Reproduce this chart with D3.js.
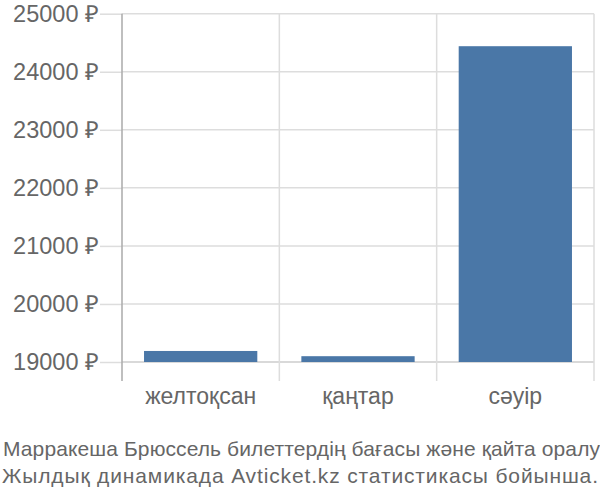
<!DOCTYPE html>
<html>
<head>
<meta charset="utf-8">
<script src="https://cdn.jsdelivr.net/npm/d3@7"></script>
<style>
  body { margin: 0; background: #fff; }
  svg text { font-family: "Liberation Sans", Arial, sans-serif; fill: #666; }
</style>
</head>
<body>
<div id="chart-area"></div>
<script>
const months = ['желтоқсан', 'қаңтар', 'сәуір'];
const prices = [19190, 19100, 24440];
const yTicks = [19000, 20000, 21000, 22000, 23000, 24000, 25000];
const caption = [
  'Марракеша Брюссель билеттердің бағасы және қайта оралу',
  'Жылдық динамикада Avticket.kz статистикасы бойынша.'
];

const drawChart = () => {
  const chartSize = { width: 600, height: 500 };
  const left = 122, right = 594, top = 13.7, base = 362, bottom = 381;

  const svg = d3.select('#chart-area')
    .append('svg')
    .attr('width', chartSize.width)
    .attr('height', chartSize.height);

  const y = d3.scaleLinear()
    .domain([19000, 25000])
    .range([base, top]);

  const bands = d3.scaleBand()
    .domain(months)
    .range([left, right])
    .padding(0);

  const x = d3.scaleBand()
    .domain(months)
    .range([left, right])
    .paddingInner(0.28)
    .paddingOuter(0.14);

  // horizontal grid + tick labels
  const yAxis = d3.axisLeft(y)
    .tickValues(yTicks)
    .tickSize(left - 100)
    .tickPadding(1)
    .tickFormat(d => d + ' ₽');

  const yg = svg.append('g')
    .attr('transform', `translate(${left},0)`)
    .call(yAxis);
  yg.select('.domain').remove();
  yg.selectAll('.tick line').attr('stroke', '#ddd').attr('stroke-width', 1.5);
  yg.selectAll('.tick text').attr('font-size', 23.5).attr('fill', '#666');

  svg.append('g').selectAll('line')
    .data(yTicks)
    .join('line')
    .attr('x1', left).attr('x2', right)
    .attr('y1', d => y(d)).attr('y2', d => y(d))
    .attr('stroke', d => d === 19000 ? '#ccc' : '#ddd')
    .attr('stroke-width', 1.5);

  // vertical grid at band edges
  const edges = months.map(m => bands(m)).concat([right]);
  svg.append('g').selectAll('line')
    .data(edges)
    .join('line')
    .attr('x1', d => d).attr('x2', d => d)
    .attr('y1', top).attr('y2', bottom)
    .attr('stroke', (d, i) => i === 0 ? '#aaa' : '#ddd')
    .attr('stroke-width', 1.5);

  svg.append('g').selectAll('rect')
    .data(prices)
    .join('rect')
    .attr('x', (d, i) => x(months[i]))
    .attr('y', d => y(d))
    .attr('width', x.bandwidth())
    .attr('height', d => y(19000) - y(d))
    .attr('fill', '#4a77a7');

  svg.append('g').selectAll('text')
    .data(months)
    .join('text')
    .attr('x', m => bands(m) + bands.bandwidth() / 2)
    .attr('y', 404)
    .attr('text-anchor', 'middle')
    .attr('font-size', 23)
    .text(m => m);

  // caption lines stretched to the reference width
  svg.append('g').selectAll('text')
    .data(caption)
    .join('text')
    .attr('x', (d, i) => i === 0 ? 3 : 2)
    .attr('y', (d, i) => 456 + i * 27)
    .attr('font-size', 21)
    .attr('textLength', (d, i) => i === 0 ? 597 : 596)
    .attr('lengthAdjust', 'spacing')
    .text(d => d);
};

window.onload = drawChart;
</script>
</body>
</html>
